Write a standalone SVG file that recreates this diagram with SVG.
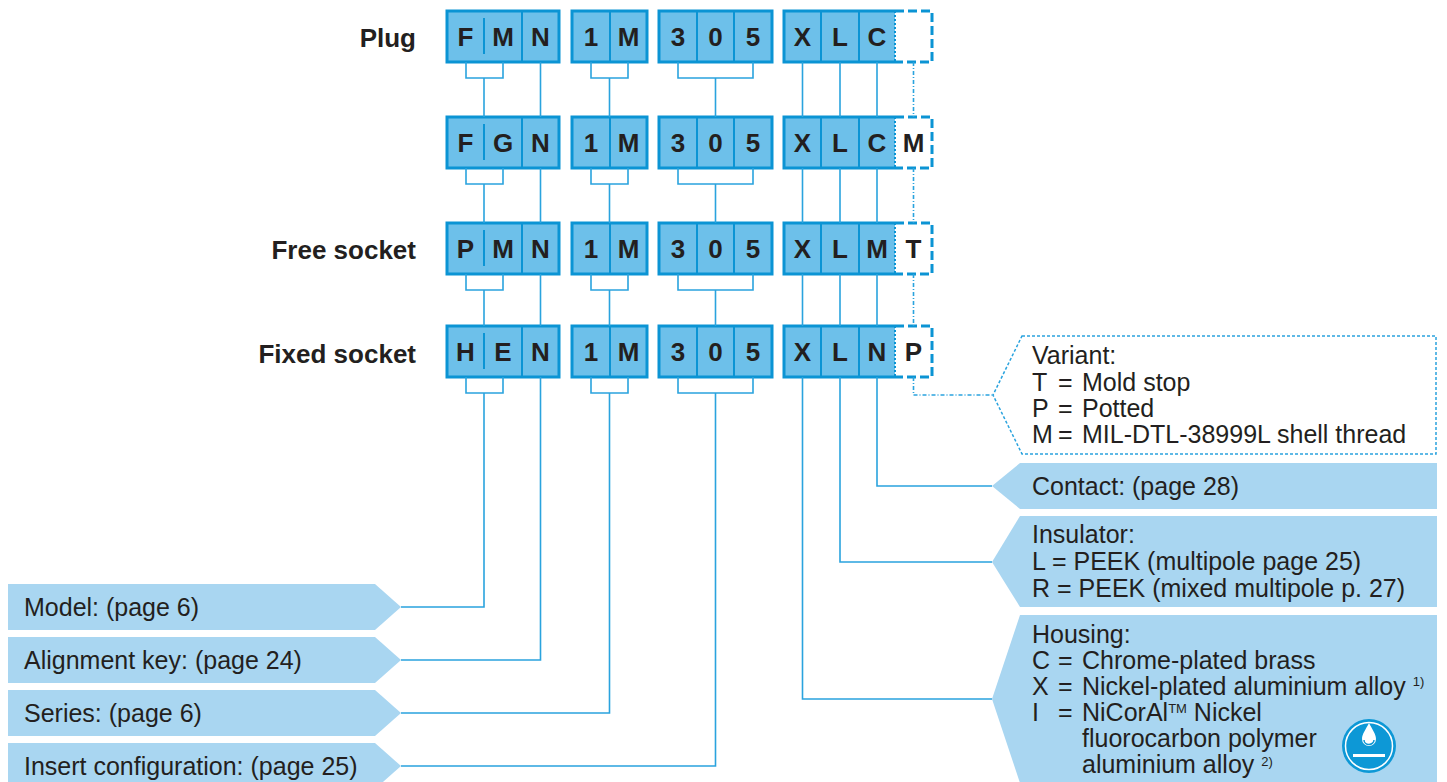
<svg xmlns="http://www.w3.org/2000/svg" width="1447" height="782" viewBox="0 0 1447 782">
<style>
.cell{fill:#6dc0ea;stroke:#0b94d4;stroke-width:3}
.cf{fill:#6dc0ea;stroke:none}
.co{fill:none;stroke:#0b94d4;stroke-width:3}
.dv{stroke:#0b94d4;stroke-width:2;fill:none}
.dt{stroke:#0b94d4;stroke-width:2;stroke-dasharray:2 2;fill:none}
.db{fill:#fff;stroke:#0b94d4;stroke-width:3;stroke-dasharray:9 4}
.lt{font-family:"Liberation Sans",Arial,sans-serif;font-weight:bold;font-size:26px;fill:#231f20;text-anchor:middle}
.ttl{font-family:"Liberation Sans",Arial,sans-serif;font-weight:bold;font-size:26px;fill:#231f20;text-anchor:end}
.cn{fill:none;stroke:#2aa3de;stroke-width:1.6}
.cd{fill:none;stroke:#2aa3de;stroke-width:1.6;stroke-dasharray:4 2 1 2}
.vd{fill:#fff;stroke:#2aa3de;stroke-width:1.5;stroke-dasharray:3 2}
.lab{fill:#a9d6f1}
.tx{font-family:"Liberation Sans",Arial,sans-serif;font-size:25px;fill:#231f20}
.sup{font-size:13px}
</style>

<g id="titles">
<text class="ttl" x="416" y="47">Plug</text>
<text class="ttl" x="416" y="259">Free socket</text>
<text class="ttl" x="416" y="363">Fixed socket</text>
</g>

<g id="row-plug">
<g id="plug-b1"><rect class="cell" x="447" y="11" width="112" height="51"/><path class="dv" d="M484 18V54M522 11V62"/><text class="lt" x="465.5" y="46">F</text><text class="lt" x="503" y="46">M</text><text class="lt" x="540.5" y="46">N</text></g>
<g id="plug-b2"><rect class="cell" x="572" y="11" width="75" height="51"/><path class="dv" d="M610 11V62"/><text class="lt" x="591" y="46">1</text><text class="lt" x="628.5" y="46">M</text></g>
<g id="plug-b3"><rect class="cell" x="659" y="11" width="113" height="51"/><path class="dv" d="M697 11V62M734 11V62"/><text class="lt" x="678" y="46">3</text><text class="lt" x="715.5" y="46">0</text><text class="lt" x="753" y="46">5</text></g>
<g id="plug-b4"><rect class="cf" x="784" y="11" width="111" height="51"/><path class="co" d="M895 11H784V62H895"/><path class="dv" d="M821 11V62M859 11V62"/><text class="lt" x="802.5" y="46">X</text><text class="lt" x="840" y="46">L</text><text class="lt" x="877" y="46">C</text></g>
<g id="plug-b5"><path class="db" d="M895 11H932V62H895"/><path class="dt" d="M895 11V62"/></g>
</g>

<g id="row-plug-m">
<g id="plugm-b1"><rect class="cell" x="447" y="117" width="112" height="51"/><path class="dv" d="M484 124V160M522 117V168"/><text class="lt" x="465.5" y="152">F</text><text class="lt" x="503" y="152">G</text><text class="lt" x="540.5" y="152">N</text></g>
<g id="plugm-b2"><rect class="cell" x="572" y="117" width="75" height="51"/><path class="dv" d="M610 117V168"/><text class="lt" x="591" y="152">1</text><text class="lt" x="628.5" y="152">M</text></g>
<g id="plugm-b3"><rect class="cell" x="659" y="117" width="113" height="51"/><path class="dv" d="M697 117V168M734 117V168"/><text class="lt" x="678" y="152">3</text><text class="lt" x="715.5" y="152">0</text><text class="lt" x="753" y="152">5</text></g>
<g id="plugm-b4"><rect class="cf" x="784" y="117" width="111" height="51"/><path class="co" d="M895 117H784V168H895"/><path class="dv" d="M821 117V168M859 117V168"/><text class="lt" x="802.5" y="152">X</text><text class="lt" x="840" y="152">L</text><text class="lt" x="877" y="152">C</text></g>
<g id="plugm-b5"><path class="db" d="M895 117H932V168H895"/><path class="dt" d="M895 117V168"/><text class="lt" x="913.5" y="152">M</text></g>
</g>

<g id="row-free">
<g id="free-b1"><rect class="cell" x="447" y="223" width="112" height="51"/><path class="dv" d="M484 230V266M522 223V274"/><text class="lt" x="465.5" y="258">P</text><text class="lt" x="503" y="258">M</text><text class="lt" x="540.5" y="258">N</text></g>
<g id="free-b2"><rect class="cell" x="572" y="223" width="75" height="51"/><path class="dv" d="M610 223V274"/><text class="lt" x="591" y="258">1</text><text class="lt" x="628.5" y="258">M</text></g>
<g id="free-b3"><rect class="cell" x="659" y="223" width="113" height="51"/><path class="dv" d="M697 223V274M734 223V274"/><text class="lt" x="678" y="258">3</text><text class="lt" x="715.5" y="258">0</text><text class="lt" x="753" y="258">5</text></g>
<g id="free-b4"><rect class="cf" x="784" y="223" width="111" height="51"/><path class="co" d="M895 223H784V274H895"/><path class="dv" d="M821 223V274M859 223V274"/><text class="lt" x="802.5" y="258">X</text><text class="lt" x="840" y="258">L</text><text class="lt" x="877" y="258">M</text></g>
<g id="free-b5"><path class="db" d="M895 223H932V274H895"/><path class="dt" d="M895 223V274"/><text class="lt" x="913.5" y="258">T</text></g>
</g>

<g id="row-fixed">
<g id="fixed-b1"><rect class="cell" x="447" y="326" width="112" height="51"/><path class="dv" d="M484 333V369M522 326V377"/><text class="lt" x="465.5" y="361">H</text><text class="lt" x="503" y="361">E</text><text class="lt" x="540.5" y="361">N</text></g>
<g id="fixed-b2"><rect class="cell" x="572" y="326" width="75" height="51"/><path class="dv" d="M610 326V377"/><text class="lt" x="591" y="361">1</text><text class="lt" x="628.5" y="361">M</text></g>
<g id="fixed-b3"><rect class="cell" x="659" y="326" width="113" height="51"/><path class="dv" d="M697 326V377M734 326V377"/><text class="lt" x="678" y="361">3</text><text class="lt" x="715.5" y="361">0</text><text class="lt" x="753" y="361">5</text></g>
<g id="fixed-b4"><rect class="cf" x="784" y="326" width="111" height="51"/><path class="co" d="M895 326H784V377H895"/><path class="dv" d="M821 326V377M859 326V377"/><text class="lt" x="802.5" y="361">X</text><text class="lt" x="840" y="361">L</text><text class="lt" x="877" y="361">N</text></g>
<g id="fixed-b5"><path class="db" d="M895 326H932V377H895"/><path class="dt" d="M895 326V377"/><text class="lt" x="913.5" y="361">P</text></g>
</g>

<g id="connectors">
<path class="cn" d="M466 62V78H503V62M484 78V117M540.5 62V117M591 62V78H628V62M609.5 78V117M678 62V78H753V62M715.5 78V117M802.5 62V117M840 62V117M877 62V117"/>
<path class="cn" d="M466 168V184H503V168M484 184V223M540.5 168V223M591 168V184H628V168M609.5 184V223M678 168V184H753V168M715.5 184V223M802.5 168V223M840 168V223M877 168V223"/>
<path class="cn" d="M466 274V290H503V274M484 290V326M540.5 274V326M591 274V290H628V274M609.5 290V326M678 274V290H753V274M715.5 290V326M802.5 274V326M840 274V326M877 274V326"/>
<path class="cn" d="M466 377V393H503V377M484 393V607H401M540.5 377V660H401M591 377V393H628V377M609.5 393V713H401M678 377V393H753V377M715.5 393V766H401"/>
<path class="cn" d="M877 377V486H992M840 377V562H992M802.5 377V699H992"/>
<path class="cd" d="M913.5 62V117M913.5 168V223M913.5 274V326M913.5 377V395H993"/>
</g>

<g id="label-model"><polygon class="lab" points="8,584 375,584 401,607 375,630 8,630"/><text class="tx" x="24" y="616">Model: (page 6)</text></g>
<g id="label-alignment"><polygon class="lab" points="8,637 375,637 401,660 375,683 8,683"/><text class="tx" x="24" y="669">Alignment key: (page 24)</text></g>
<g id="label-series"><polygon class="lab" points="8,690 375,690 401,713 375,736 8,736"/><text class="tx" x="24" y="722">Series: (page 6)</text></g>
<g id="label-insert"><polygon class="lab" points="8,743 375,743 401,766 375,789 8,789"/><text class="tx" x="24" y="775">Insert configuration: (page 25)</text></g>

<g id="label-variant"><path class="vd" d="M1022 336H1436V454H1022L993 395Z"/>
<text class="tx" x="1032" y="364">Variant:</text>
<text class="tx" y="391"><tspan x="1032">T</tspan><tspan x="1058">=</tspan><tspan x="1082">Mold stop</tspan></text>
<text class="tx" y="417"><tspan x="1032">P</tspan><tspan x="1058">=</tspan><tspan x="1082">Potted</tspan></text>
<text class="tx" y="443"><tspan x="1032">M</tspan><tspan x="1058">=</tspan><tspan x="1082">MIL-DTL-38999L shell thread</tspan></text>
</g>

<g id="label-contact"><polygon class="lab" points="1020,463 1437,463 1437,509 1020,509 992,486"/><text class="tx" x="1032" y="495">Contact: (page 28)</text></g>

<g id="label-insulator"><polygon class="lab" points="1020,516 1437,516 1437,607 1020,607 992,562"/>
<text class="tx" x="1032" y="543">Insulator:</text>
<text class="tx" x="1032" y="570">L = PEEK (multipole page 25)</text>
<text class="tx" x="1032" y="597">R = PEEK (mixed multipole p. 27)</text>
</g>

<g id="label-housing"><polygon class="lab" points="1020,615 1437,615 1437,790 1020,790 1020,783 992,699"/>
<text class="tx" x="1032" y="643">Housing:</text>
<text class="tx" y="669"><tspan x="1032">C</tspan><tspan x="1058">=</tspan><tspan x="1082">Chrome-plated brass</tspan></text>
<text class="tx" y="695"><tspan x="1032">X</tspan><tspan x="1058">=</tspan><tspan x="1082">Nickel-plated aluminium alloy </tspan><tspan class="sup" dy="-9">1)</tspan></text>
<text class="tx" y="721"><tspan x="1032">I</tspan><tspan x="1058">=</tspan><tspan x="1082">NiCorAl</tspan><tspan class="sup" dy="-8">TM</tspan><tspan dy="8"> Nickel</tspan></text>
<text class="tx" x="1082" y="747">fluorocarbon polymer</text>
<text class="tx" y="773"><tspan x="1082">aluminium alloy </tspan><tspan class="sup" dy="-7">2)</tspan></text>
<g id="icon-water">
<circle cx="1369" cy="746" r="27" fill="#0d98d6"/>
<circle cx="1369" cy="746" r="23.5" fill="none" stroke="#fff" stroke-width="1.5"/>
<path d="M1369 723C1366 729 1362 734 1362 739A7 7 0 0 0 1376 739C1376 734 1372 729 1369 723Z" fill="#fff"/>
<path d="M1364 740A5 4.5 0 0 0 1374 740" fill="none" stroke="#0d98d6" stroke-width="1.5"/>
<rect x="1353" y="754" width="32" height="3" fill="#fff"/>
</g>
</g>
</svg>
